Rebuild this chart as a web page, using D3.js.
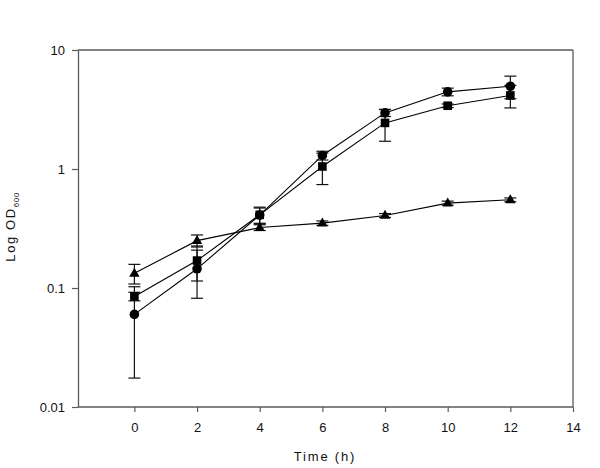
<!DOCTYPE html>
<html>
<head>
<meta charset="utf-8">
<script src="https://cdn.jsdelivr.net/npm/d3@7"></script>
<style>
  html, body { margin: 0; padding: 0; background: #fff; }
  svg { display: block; font-family: "Liberation Sans", Arial, sans-serif; }
</style>
</head>
<body>
<svg id="chart" width="600" height="468"></svg>
<script>
// ---- data ----
const times = [0, 2, 4, 6, 8, 10, 12];
const circleVals = [0.060, 0.145, 0.41, 1.30, 2.96, 4.45, 4.96];
const circleErr  = [0.0425, 0.063, 0.06, 0.11, 0.2, 0.33, 1.07];
const squareVals = [0.085, 0.170, 0.412, 1.05, 2.44, 3.40, 4.15];
const squareErr  = [0.007, 0.0555, 0.066, 0.31, 0.73, 0.12, 0.89];
const triVals    = [0.133, 0.250, 0.322, 0.351, 0.407, 0.517, 0.551];
const triErr     = [0.025, 0.029, 0.018, 0.015, 0.015, 0.02, 0.02];
const xTicks = [0, 2, 4, 6, 8, 10, 12, 14];
const yTicks = [0.01, 0.1, 1, 10];
const yTickLabels = ["0.01", "0.1", "1", "10"];
const xLabel = "Time (h)";

// ---- layout ----
const mLeft = 78, mRight = 573, mTop = 50, mBottom = 407;
const svg = d3.select("#chart");
const x = d3.scaleLinear().domain([-1.8, 14]).range([mLeft, mRight]);
const y = d3.scaleLog().domain([0.01, 10]).range([mBottom, mTop]);
const axisColor = "#5a5a5a";

// frame top/right
svg.append("line").attr("x1", mLeft).attr("x2", mRight).attr("y1", mTop).attr("y2", mTop)
  .attr("stroke", axisColor).attr("stroke-width", 1.3);
svg.append("line").attr("x1", mRight).attr("x2", mRight).attr("y1", mTop).attr("y2", mBottom)
  .attr("stroke", axisColor).attr("stroke-width", 1.3);

// axes
const gx = svg.append("g").attr("transform", `translate(0,${mBottom})`)
  .call(d3.axisBottom(x).tickValues(xTicks).tickFormat(d3.format("d")).tickSize(5).tickSizeOuter(0).tickPadding(11));
const gy = svg.append("g").attr("transform", `translate(${mLeft},0)`)
  .call(d3.axisLeft(y).tickValues(yTicks).tickFormat((d, i) => yTickLabels[i]).tickSize(6).tickSizeOuter(0).tickPadding(7));
[gx, gy].forEach(g => {
  g.select(".domain").attr("stroke", axisColor).attr("stroke-width", 1.3);
  g.selectAll(".tick line").attr("stroke", axisColor).attr("stroke-width", 1.2);
  g.selectAll(".tick text").attr("fill", "#111").attr("font-size", 13)
    .attr("font-family", "'Liberation Sans', Arial, sans-serif");
});
gx.select(".domain").attr("d", `M${mLeft},0H${mRight}`);

// axis titles
svg.append("text").attr("x", 325).attr("y", 461).attr("text-anchor", "middle")
  .attr("font-size", 13).attr("letter-spacing", 1.8).attr("fill", "#111").text(xLabel);
const yt = svg.append("text").attr("transform", "translate(15,227) rotate(-90)")
  .attr("text-anchor", "middle").attr("font-size", 13).attr("letter-spacing", 1.6).attr("fill", "#111");
yt.append("tspan").text("Log OD");
yt.append("tspan").attr("font-size", 8).attr("dy", 4).attr("letter-spacing", 0.5).text("600");

// series
const series = [
  {vals: triVals, err: triErr, shape: "tri"},
  {vals: squareVals, err: squareErr, shape: "sq"},
  {vals: circleVals, err: circleErr, shape: "circ"}
];
const line = d3.line().x(d => x(d.t)).y(d => y(d.v));
const plot = svg.append("g");
series.forEach(s => {
  const pts = times.map((t, i) => ({t, v: s.vals[i], e: s.err[i]}));
  plot.append("path").datum(pts).attr("d", line).attr("fill", "none")
    .attr("stroke", "#000").attr("stroke-width", 1.1);
});
series.forEach(s => {
  const pts = times.map((t, i) => ({t, v: s.vals[i], e: s.err[i]}));
  const eg = plot.append("g").attr("stroke", "#111").attr("stroke-width", 1.2);
  pts.forEach(p => {
    const cx = x(p.t), y1 = y(p.v + p.e), y0 = y(p.v - p.e);
    eg.append("line").attr("x1", cx).attr("x2", cx).attr("y1", y1).attr("y2", y0);
    eg.append("line").attr("x1", cx - 6).attr("x2", cx + 6).attr("y1", y1).attr("y2", y1);
    eg.append("line").attr("x1", cx - 6).attr("x2", cx + 6).attr("y1", y0).attr("y2", y0);
  });
});
series.forEach(s => {
  const pts = times.map((t, i) => ({t, v: s.vals[i]}));
  const mg = plot.append("g").attr("fill", "#000");
  pts.forEach(p => {
    const cx = x(p.t), cy = y(p.v);
    if (s.shape === "circ") {
      mg.append("circle").attr("cx", cx).attr("cy", cy).attr("r", 4.8);
    } else if (s.shape === "sq") {
      mg.append("rect").attr("x", cx - 4.3).attr("y", cy - 4.3).attr("width", 8.6).attr("height", 8.6);
    } else {
      mg.append("path").attr("d", `M${cx},${cy - 5.6}L${cx + 5.2},${cy + 3.4}L${cx - 5.2},${cy + 3.4}Z`);
    }
  });
});
</script>
</body>
</html>
